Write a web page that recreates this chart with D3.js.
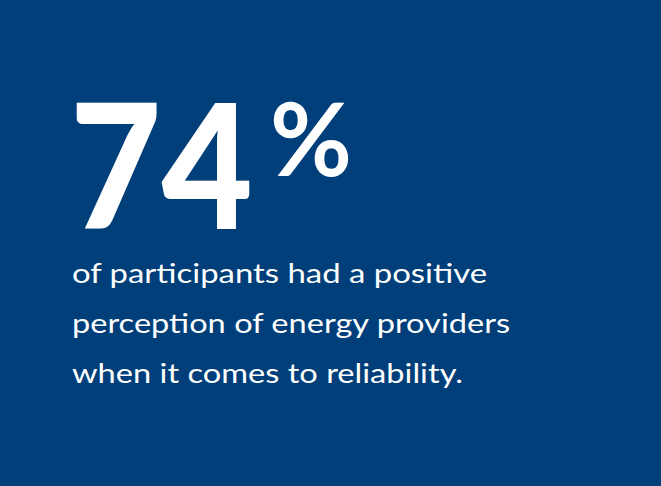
<!DOCTYPE html>
<html><head><meta charset="utf-8">
<script src="https://cdn.jsdelivr.net/npm/d3@7"></script>
<style>html,body{margin:0;padding:0;background:#003f7a;}svg{display:block;}</style>
</head><body>
<script>
const statValue = [74];
const statUnit = ["%"];
const captionLines = [
  "of participants had a positive",
  "perception of energy providers",
  "when it comes to reliability."
];
const W = 661, H = 486;
const svg = d3.select("body").append("svg").attr("width", W).attr("height", H);
svg.append("rect").attr("width", W).attr("height", H).attr("fill", "#003f7a");

svg.selectAll("text.big").data(statValue).join("text")
  .attr("class","big")
  .attr("x", 70).attr("y", 229)
  .attr("font-family","Lato, 'Open Sans', sans-serif")
  .attr("font-weight", 900)
  .attr("font-size", 174)
  .attr("textLength", 183).attr("lengthAdjust","spacingAndGlyphs")
  .attr("fill","#fff")
  .text(d => d);

svg.selectAll("text.unit").data(statUnit).join("text")
  .attr("class","unit")
  .attr("x", 270).attr("y", 176)
  .attr("font-family","Lato, 'Open Sans', sans-serif")
  .attr("font-weight", 700)
  .attr("font-size", 102)
  .attr("textLength", 82).attr("lengthAdjust","spacingAndGlyphs")
  .attr("fill","#fff")
  .text(d => d);

const lineWidths = [415, 438, 391];
const y = d3.scalePoint().domain(d3.range(captionLines.length)).range([283, 383]);
svg.selectAll("text.cap").data(captionLines).join("text")
  .attr("class","cap")
  .attr("x", 72).attr("y", (d,i) => y(i))
  .attr("font-family","Lato, 'Open Sans', sans-serif")
  .attr("font-size", 26)
  .attr("textLength", (d,i) => lineWidths[i]).attr("lengthAdjust","spacingAndGlyphs")
  .attr("fill","#fff")
  .text(d => d);
</script>
</body></html>
